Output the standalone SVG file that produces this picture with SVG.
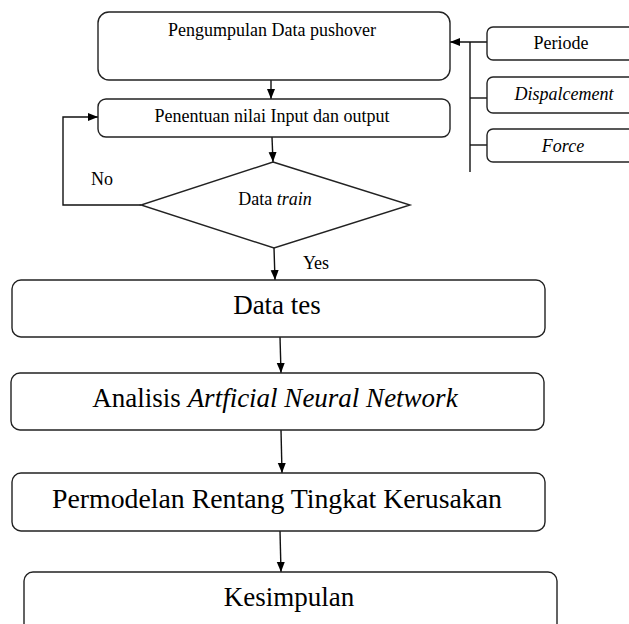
<svg xmlns="http://www.w3.org/2000/svg" width="629" height="624" viewBox="0 0 629 624">
<style>
.box{fill:#fff;stroke:#222;stroke-width:1.4}
.ln{fill:none;stroke:#111;stroke-width:1.4}
.s{font-family:"Liberation Serif","Times New Roman",serif;font-size:18px;fill:#000;text-anchor:middle}
.b{font-family:"Liberation Serif","Times New Roman",serif;font-size:27px;fill:#000;text-anchor:middle}
.i{font-style:italic}
</style>
<defs>
<marker id="ah" markerWidth="10" markerHeight="10" viewBox="0 0 10 10" refX="10" refY="5" orient="auto" markerUnits="userSpaceOnUse">
<path d="M0,1 L10,5 L0,9 Z" fill="#000"/>
</marker>
</defs>
<rect width="629" height="624" fill="#fff"/>
<g id="connectors">
<line class="ln" x1="271" y1="80" x2="271" y2="99" marker-end="url(#ah)"/>
<line class="ln" x1="272" y1="137" x2="273" y2="162" marker-end="url(#ah)"/>
<polyline class="ln" points="141,205 63,205 63,117 98,117" marker-end="url(#ah)"/>
<line class="ln" x1="274" y1="248" x2="275" y2="280" marker-end="url(#ah)"/>
<line class="ln" x1="470" y1="42" x2="470" y2="172"/>
<line class="ln" x1="487" y1="42" x2="450" y2="42" marker-end="url(#ah)"/>
<line class="ln" x1="470" y1="98" x2="487" y2="98"/>
<line class="ln" x1="470" y1="145" x2="487" y2="145"/>
<line class="ln" x1="280" y1="337" x2="281" y2="373" marker-end="url(#ah)"/>
<line class="ln" x1="281" y1="430" x2="282" y2="473" marker-end="url(#ah)"/>
<line class="ln" x1="280" y1="531" x2="281" y2="572" marker-end="url(#ah)"/>
<text class="s" x="102" y="185">No</text>
<text class="s" x="316" y="269">Yes</text>
</g>
<g id="n_pengumpulan">
<rect class="box" x="98" y="12" width="352" height="68" rx="11"/>
<text class="s" x="272" y="36">Pengumpulan Data pushover</text>
</g>
<g id="n_penentuan">
<rect class="box" x="98" y="99" width="352" height="38" rx="8"/>
<text class="s" x="272" y="122">Penentuan nilai Input dan output</text>
</g>
<g id="n_datatrain">
<polygon class="box" points="273,162 410,205 274,248 141,205"/>
<text class="s" x="275" y="205">Data <tspan class="i">train</tspan></text>
</g>
<g id="n_periode">
<rect class="box" x="487" y="27" width="160" height="33" rx="6"/>
<text class="s" x="561" y="49">Periode</text>
</g>
<g id="n_displacement">
<rect class="box" x="487" y="77" width="160" height="36" rx="6"/>
<text class="s i" x="564" y="100">Dispalcement</text>
</g>
<g id="n_force">
<rect class="box" x="487" y="129" width="160" height="33" rx="6"/>
<text class="s i" x="563" y="152">Force</text>
</g>
<g id="n_datates">
<rect class="box" x="12" y="280" width="533" height="57" rx="9"/>
<text class="b" x="277" y="314">Data tes</text>
</g>
<g id="n_analisis">
<rect class="box" x="11" y="373" width="533" height="57" rx="9"/>
<text class="b" x="275" y="407">Analisis <tspan class="i">Artficial Neural Network</tspan></text>
</g>
<g id="n_permodelan">
<rect class="box" x="12" y="473" width="533" height="58" rx="9"/>
<text class="b" x="277" y="508" textLength="450" lengthAdjust="spacingAndGlyphs">Permodelan Rentang Tingkat Kerusakan</text>
</g>
<g id="n_kesimpulan">
<rect class="box" x="24" y="572" width="533" height="70" rx="9"/>
<text class="b" x="289" y="606">Kesimpulan</text>
</g>
</svg>
